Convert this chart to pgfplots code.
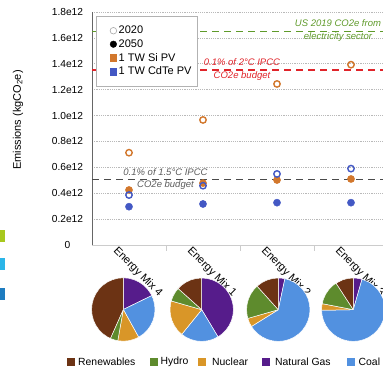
\documentclass[border=0pt]{standalone}
\usepackage{fontspec}
\setmainfont{Liberation Sans}
\usepackage{pgfplots}
\pgfplotsset{compat=1.18}
\definecolor{cOr}{HTML}{D2772C}
\definecolor{cBl}{HTML}{4358C4}
\definecolor{cRen}{HTML}{6C3314}
\definecolor{cHyd}{HTML}{5E8B2D}
\definecolor{cNuc}{HTML}{D99628}
\definecolor{cGas}{HTML}{561C8B}
\definecolor{cCoal}{HTML}{5291E0}
\definecolor{cGreen}{HTML}{5F9A2A}
\definecolor{cRed}{HTML}{E0242A}
\definecolor{cDark}{HTML}{4A4A4A}
\pgfplotsset{
  pieax/.style={anchor=center, scale only axis, width=63.4pt, height=63.4pt,
    xmin=-1, xmax=1, ymin=-1, ymax=1, hide axis, clip=false},
  pie/.style={data cs=polar, draw=white, line width=0.5pt, mark=none},
}
\begin{document}
\begin{tikzpicture}
\useasboundingbox (0pt,0pt) rectangle (383pt,371pt);
\clip (0pt,0pt) rectangle (383pt,371pt);
% remnants at the left edge
\fill[fill={rgb,255:red,168;green,200;blue,30}] (0pt,129pt) rectangle (5pt,141pt);
\fill[fill={rgb,255:red,43;green,181;blue,232}] (0pt,101pt) rectangle (5pt,113pt);
\fill[fill={rgb,255:red,30;green,124;blue,192}] (0pt,71pt) rectangle (5pt,83pt);
\node[rotate=90, font=\fontsize{11}{13}\selectfont] at (18pt,251pt) {Emissions (kgCO\textsubscript{2}e)};
\begin{axis}[
  at={(92pt,126pt)}, anchor=south west, scale only axis,
  width=296pt, height=233pt,
  xmin=0.5, xmax=4.5, ymin=0, ymax=1.8,
  axis x line*=bottom, axis y line*=left,
  x axis line style={draw=gray!40, line width=0.8pt, -},
  y axis line style={draw=gray!80!black, line width=0.8pt, -},
  /pgf/number format/assume math mode=true,
  ytick={0,0.2,0.4,0.6,0.8,1.0,1.2,1.4,1.6,1.8},
  yticklabels={0,0.2e12,0.4e12,0.6e12,0.8e12,1.0e12,1.2e12,1.4e12,1.6e12,1.8e12},
  yticklabel style={anchor=center, xshift=-24.5pt, font=\fontsize{10.2}{12}\selectfont},
  ymajorgrids, grid style={gray!55, line width=0.6pt, dash pattern=on 1.2pt off 1pt},
  xtick={1,2,3,4},
  xticklabels={Energy Mix 4,Energy Mix 1,Energy Mix 2,Energy Mix 3},
  xticklabel style={rotate=-45, anchor=north west, inner sep=0pt, xshift=-7pt, yshift=-7.5pt,
     font=\fontsize{11}{13}\selectfont},
  major tick length=0pt,
  extra x ticks={1.5,2.5,3.5}, extra x tick labels={},
  extra x tick style={major tick length=6pt, tick align=outside,
     tick style={draw=gray!40, line width=0.8pt}, grid=none},
  legend cell align=left,
  legend style={at={(rel axis cs:0.0135,0.983)}, anchor=north west,
    draw=gray!60, fill=white, font=\fontsize{11}{13}\selectfont,
    inner xsep=4pt, inner ysep=8pt, row sep=0.3pt},
  legend image code/.code={\path (0pt,0pt); \draw[#1] plot coordinates {(13pt,0pt)};},
  clip=false,
]
\addlegendimage{only marks, mark=o, mark size=3.3pt, mark options={draw=gray!70, line width=0.6pt}}
\addlegendentry{2020}
\addlegendimage{only marks, mark=*, mark size=3.3pt, mark options={draw=black, fill=black}}
\addlegendentry{2050}
\addlegendimage{only marks, mark=square*, mark size=3.3pt, mark options={draw=cOr, fill=cOr}}
\addlegendentry{1 TW Si PV}
\addlegendimage{only marks, mark=square*, mark size=3.3pt, mark options={draw=cBl, fill=cBl}}
\addlegendentry{1 TW CdTe PV}
% reference lines
\addplot[forget plot, cGreen, line width=1.5pt, dash pattern=on 7pt off 5pt] coordinates {(0.5,1.648) (4.5,1.648)};
\addplot[forget plot, cRed, line width=1.5pt, dash pattern=on 7pt off 5pt] coordinates {(0.5,1.352) (4.5,1.352)};
\addplot[forget plot, cDark, line width=1.5pt, dash pattern=on 7pt off 5pt] coordinates {(0.5,0.507) (4.5,0.507)};
\node[font=\fontsize{9.5}{12.8}\selectfont\itshape, text=cGreen, align=center] at (axis cs:3.824,1.657) {US 2019 CO2e from\\electricity sector};
\node[font=\fontsize{9.5}{12.8}\selectfont\itshape, text=cRed, align=center] at (axis cs:2.527,1.356) {0.1\% of 2°C IPCC\\CO2e budget};
\node[font=\fontsize{9.5}{12.8}\selectfont\itshape, text=cDark!90, align=center] at (axis cs:1.493,0.51) {0.1\% of 1.5°C IPCC\\CO2e budget};
% data
\addplot[forget plot, only marks, mark=o, mark size=3.2pt, mark options={draw=cOr, line width=1.4pt}] coordinates {(1,0.713) (2,0.966) (3,1.244) (4,1.393)};
\addplot[forget plot, only marks, mark=*, mark size=3.6pt, mark options={draw=cOr, fill=cOr}] coordinates {(1,0.425) (2,0.478) (3,0.502) (4,0.510)};
\addplot[forget plot, only marks, mark=o, mark size=3.2pt, mark options={draw=cBl, line width=1.4pt}] coordinates {(1,0.386) (2,0.458) (3,0.549) (4,0.590)};
\addplot[forget plot, only marks, mark=*, mark size=3.6pt, mark options={draw=cBl, fill=cBl}] coordinates {(1,0.296) (2,0.317) (3,0.327) (4,0.327)};
\end{axis}
% pie: Energy Mix 4
\begin{axis}[pieax, at={(123.3pt,61.5pt)}]
\addplot[pie, fill=cGas] coordinates {(0,0) (90,1) (80,1) (70,1) (60,1) (50,1) (40,1) (30,1) (26,1) (0,0)};
\addplot[pie, fill=cCoal] coordinates {(0,0) (26,1) (20,1) (10,1) (0,1) (-10,1) (-20,1) (-30,1) (-40,1) (-50,1) (-61,1) (0,0)};
\addplot[pie, fill=cNuc] coordinates {(0,0) (-61,1) (-70,1) (-80,1) (-90,1) (-100,1) (0,0)};
\addplot[pie, fill=cHyd] coordinates {(0,0) (-100,1) (-107,1) (-114,1) (0,0)};
\addplot[pie, fill=cRen] coordinates {(0,0) (-114,1) (-120,1) (-130,1) (-140,1) (-150,1) (-160,1) (-170,1) (-180,1) (-190,1) (-200,1) (-210,1) (-220,1) (-230,1) (-240,1) (-250,1) (-260,1) (-270,1) (0,0)};
\end{axis}
% pie: Energy Mix 1
\begin{axis}[pieax, at={(201.7pt,61.3pt)}]
\addplot[pie, fill=cGas] coordinates {(0,0) (90,1) (80,1) (70,1) (60,1) (50,1) (40,1) (30,1) (20,1) (10,1) (0,1) (-10,1) (-20,1) (-30,1) (-40,1) (-50,1) (-59,1) (0,0)};
\addplot[pie, fill=cCoal] coordinates {(0,0) (-59,1) (-70,1) (-80,1) (-90,1) (-100,1) (-110,1) (-120,1) (-129,1) (0,0)};
\addplot[pie, fill=cNuc] coordinates {(0,0) (-129,1) (-140,1) (-150,1) (-160,1) (-170,1) (-180,1) (-190,1) (-196,1) (0,0)};
\addplot[pie, fill=cHyd] coordinates {(0,0) (-196,1) (-205,1) (-214,1) (-222,1) (0,0)};
\addplot[pie, fill=cRen] coordinates {(0,0) (-222,1) (-230,1) (-240,1) (-250,1) (-260,1) (-270,1) (0,0)};
\end{axis}
% pie: Energy Mix 2
\begin{axis}[pieax, at={(278.3pt,61.3pt)}]
\addplot[pie, fill=cGas] coordinates {(0,0) (90,1) (84,1) (78,1) (0,0)};
\addplot[pie, fill=cCoal] coordinates {(0,0) (78,1) (70,1) (60,1) (50,1) (40,1) (30,1) (20,1) (10,1) (0,1) (-10,1) (-20,1) (-30,1) (-40,1) (-50,1) (-60,1) (-70,1) (-80,1) (-90,1) (-100,1) (-110,1) (-120,1) (-130,1) (-140,1) (-148,1) (0,0)};
\addplot[pie, fill=cNuc] coordinates {(0,0) (-148,1) (-156,1) (-164,1) (0,0)};
\addplot[pie, fill=cHyd] coordinates {(0,0) (-164,1) (-170,1) (-180,1) (-190,1) (-200,1) (-210,1) (-220,1) (-228,1) (0,0)};
\addplot[pie, fill=cRen] coordinates {(0,0) (-228,1) (-240,1) (-250,1) (-260,1) (-270,1) (0,0)};
\end{axis}
% pie: Energy Mix 3
\begin{axis}[pieax, at={(353.3pt,61.3pt)}]
\addplot[pie, fill=cGas] coordinates {(0,0) (90,1) (82,1) (74,1) (0,0)};
\addplot[pie, fill=cCoal] coordinates {(0,0) (74,1) (60,1) (50,1) (40,1) (30,1) (20,1) (10,1) (0,1) (-10,1) (-20,1) (-30,1) (-40,1) (-50,1) (-60,1) (-70,1) (-80,1) (-90,1) (-100,1) (-110,1) (-120,1) (-130,1) (-140,1) (-150,1) (-160,1) (-170,1) (-179,1) (0,0)};
\addplot[pie, fill=cNuc] coordinates {(0,0) (-179,1) (-185,1) (-191,1) (0,0)};
\addplot[pie, fill=cHyd] coordinates {(0,0) (-191,1) (-200,1) (-210,1) (-220,1) (-230,1) (-237,1) (0,0)};
\addplot[pie, fill=cRen] coordinates {(0,0) (-237,1) (-250,1) (-260,1) (-270,1) (0,0)};
\end{axis}
% bottom legend
\begin{scope}[every node/.style={font=\fontsize{10.4}{12}\selectfont, anchor=west, inner sep=0pt}]
\fill[cRen] (66.7pt,5.3pt) rectangle (74.7pt,13.3pt); \node at (78pt,9.3pt) {Renewables};
\fill[cHyd] (150pt,5.3pt) rectangle (158pt,13.3pt); \node at (160.5pt,9.3pt) {Hydro};
\fill[cNuc] (198pt,5.3pt) rectangle (206pt,13.3pt); \node at (212pt,9.3pt) {Nuclear};
\fill[cGas] (262pt,5.3pt) rectangle (270pt,13.3pt); \node at (275pt,9.3pt) {Natural Gas};
\fill[cCoal] (347pt,5.3pt) rectangle (355pt,13.3pt); \node at (358.5pt,9.3pt) {Coal};
\end{scope}
\end{tikzpicture}
\end{document}
